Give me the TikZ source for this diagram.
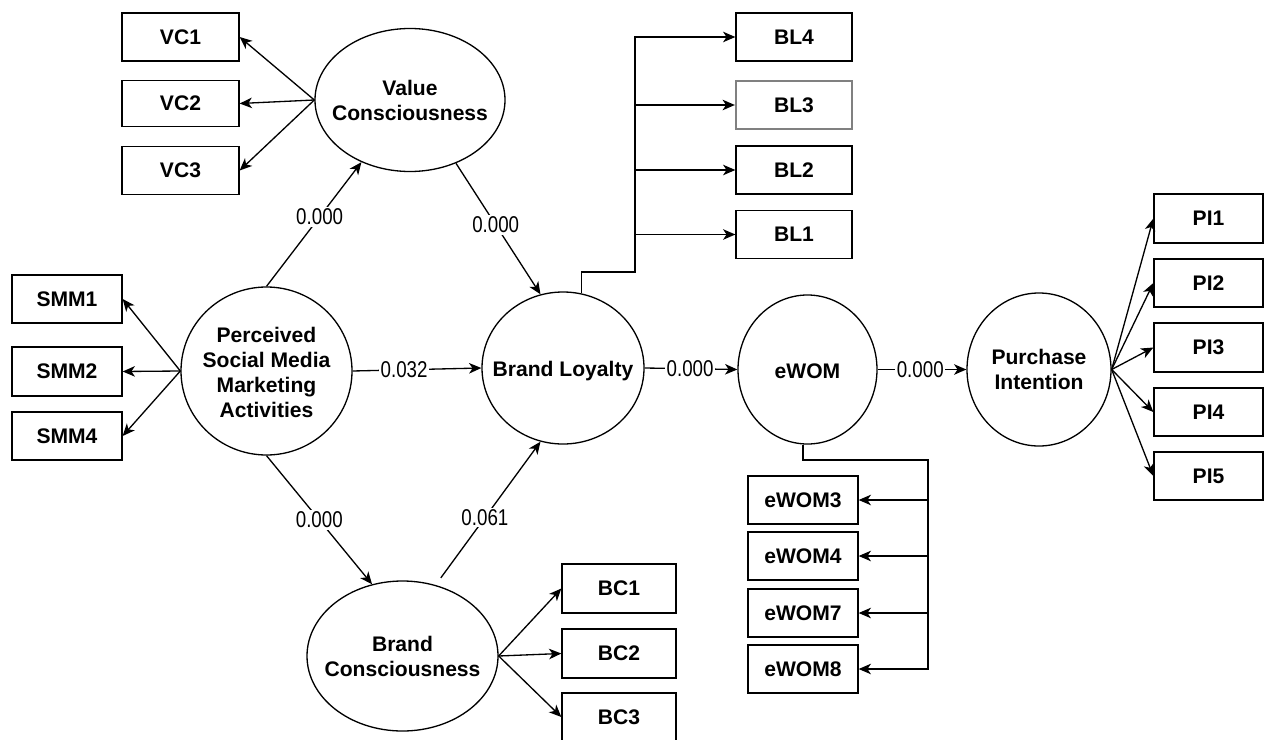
\documentclass[tikz,border=0pt]{standalone}
\usepackage{fontspec}
\setmainfont{Liberation Sans}
\newfontfamily\narrowlbl[FakeStretch=0.82]{Liberation Sans}
\usetikzlibrary{arrows.meta,shapes.geometric}
\newcommand\pxu{0.02cm}
\tikzset{
  lw/.style={line width=0.75pt},
  arr/.style={lw,-{Stealth[length=7pt,width=6pt,inset=2pt]}},
  latent/.style={draw,lw,ellipse,inner sep=0pt},
  ltxt/.style={align=center,inner sep=0pt,
     font=\bfseries\fontsize{12}{14.2}\selectfont},
  ind/.style={draw,lw,rectangle,inner sep=0pt,
     font=\bfseries\fontsize{12}{14.2}\selectfont},
  lbl/.style={fill=white,inner sep=1pt,font=\narrowlbl\fontsize{13}{14}\selectfont},
}
\begin{document}
\begin{tikzpicture}[x=0.02cm,y=-0.02cm]
\useasboundingbox (0,0) rectangle (1264,740);
% latent variables
\node[latent,minimum width=190*\pxu,minimum height=143*\pxu,label={[ltxt]center:{Value\\Consciousness}}] (vc) at (410,100) {};
\node[latent,minimum width=171*\pxu,minimum height=168*\pxu,label={[ltxt,yshift=-1pt]center:{Perceived\\Social Media\\Marketing\\Activities}}] (psmma) at (266.5,371) {};
\node[latent,minimum width=162*\pxu,minimum height=152*\pxu,label={[ltxt,yshift=-1.5pt]center:{Brand Loyalty}}] (bl) at (563,368) {};
\node[latent,minimum width=139*\pxu,minimum height=149*\pxu,label={[ltxt,yshift=-1pt]center:{eWOM}}] (ewom) at (807.5,369.5) {};
\node[latent,minimum width=144*\pxu,minimum height=153*\pxu,label={[ltxt]center:{Purchase\\Intention}}] (pi) at (1039,369.5) {};
\node[latent,minimum width=191*\pxu,minimum height=150*\pxu,label={[ltxt]center:{Brand\\Consciousness}}] (bc) at (402.5,656) {};
% indicators
\node[ind,minimum width=117*\pxu,minimum height=48*\pxu] (vc1) at (180.5,37) {VC1};
\node[ind,minimum width=117*\pxu,minimum height=46*\pxu] (vc2) at (180.5,103.5) {VC2};
\node[ind,minimum width=117*\pxu,minimum height=48*\pxu] (vc3) at (180.5,170.5) {VC3};
\node[ind,minimum width=110*\pxu,minimum height=48*\pxu] (smm1) at (67,299) {SMM1};
\node[ind,minimum width=110*\pxu,minimum height=49*\pxu] (smm2) at (67,371.5) {SMM2};
\node[ind,minimum width=110*\pxu,minimum height=48*\pxu] (smm4) at (67,436) {SMM4};
\node[ind,minimum width=116*\pxu,minimum height=48*\pxu] (bl4) at (794,37) {BL4};
\node[ind,draw=gray,line width=1.3pt,minimum width=116*\pxu,minimum height=48*\pxu] (bl3) at (794,105) {BL3};
\node[ind,minimum width=116*\pxu,minimum height=48*\pxu] (bl2) at (794,170) {BL2};
\node[ind,minimum width=116*\pxu,minimum height=48*\pxu] (bl1) at (794,234.5) {BL1};
\node[ind,minimum width=110*\pxu,minimum height=48*\pxu] (ewom3) at (803,500) {eWOM3};
\node[ind,minimum width=110*\pxu,minimum height=48*\pxu] (ewom4) at (803,556) {eWOM4};
\node[ind,minimum width=110*\pxu,minimum height=48*\pxu] (ewom7) at (803,613) {eWOM7};
\node[ind,minimum width=110*\pxu,minimum height=48*\pxu] (ewom8) at (803,669) {eWOM8};
\node[ind,minimum width=114*\pxu,minimum height=49*\pxu] (bc1) at (619,588.5) {BC1};
\node[ind,minimum width=114*\pxu,minimum height=49*\pxu] (bc2) at (619,653.5) {BC2};
\node[ind,minimum width=114*\pxu,minimum height=48*\pxu] (bc3) at (619,717) {BC3};
\node[ind,minimum width=109*\pxu,minimum height=49*\pxu] (pi1) at (1208.5,218.5) {PI1};
\node[ind,minimum width=109*\pxu,minimum height=48*\pxu] (pi2) at (1208.5,283) {PI2};
\node[ind,minimum width=109*\pxu,minimum height=49*\pxu] (pi3) at (1208.5,347.5) {PI3};
\node[ind,minimum width=109*\pxu,minimum height=48*\pxu] (pi4) at (1208.5,412) {PI4};
\node[ind,minimum width=109*\pxu,minimum height=48*\pxu] (pi5) at (1208.5,476) {PI5};
% structural paths
\draw[arr] (psmma.north) -- node[lbl,pos=0.56] {0.000} (vc.232);
\draw[arr] (vc.306) -- node[lbl,pos=0.47] {0.000} (bl.107);
\draw[arr] (psmma.south) -- node[lbl,pos=0.5] {0.000} (bc.113);
\draw[arr,shorten <=5pt] (bc.65) -- node[lbl,pos=0.47] {0.061} (bl.253);
\draw[arr] (psmma.east) -- node[lbl,pos=0.4] {0.032} (bl.west);
\draw[arr] (bl.east) -- node[lbl,pos=0.49] {0.000} (ewom.west);
\draw[arr] (ewom.east) -- node[lbl,pos=0.48] {0.000} (pi.west);
% measurement paths
\foreach \t in {vc1,vc2,vc3} \draw[arr] (vc.west) -- (\t.east);
\foreach \t in {smm1,smm2,smm4} \draw[arr] (psmma.west) -- (\t.east);
\foreach \t in {bc1,bc2,bc3} \draw[arr] (bc.east) -- (\t.west);
\foreach \t in {pi1,pi2,pi3,pi4,pi5} \draw[arr] (pi.east) -- (\t.west);
% brand loyalty bus
\coordinate (blbus) at (635,272);
\draw[arr] (bl.76) |- (blbus) |- (bl4.west);
\foreach \t in {bl3,bl2,bl1} \draw[arr] (blbus |- \t.west) -- (\t.west);
% eWOM bus
\coordinate (ewbus) at (928,460);
\draw[arr] ([xshift=-4.5*\pxu]ewom.south) |- (ewbus) |- (ewom8.east);
\foreach \t in {ewom3,ewom4,ewom7} \draw[arr] (ewbus |- \t.east) -- (\t.east);
\end{tikzpicture}
\end{document}
